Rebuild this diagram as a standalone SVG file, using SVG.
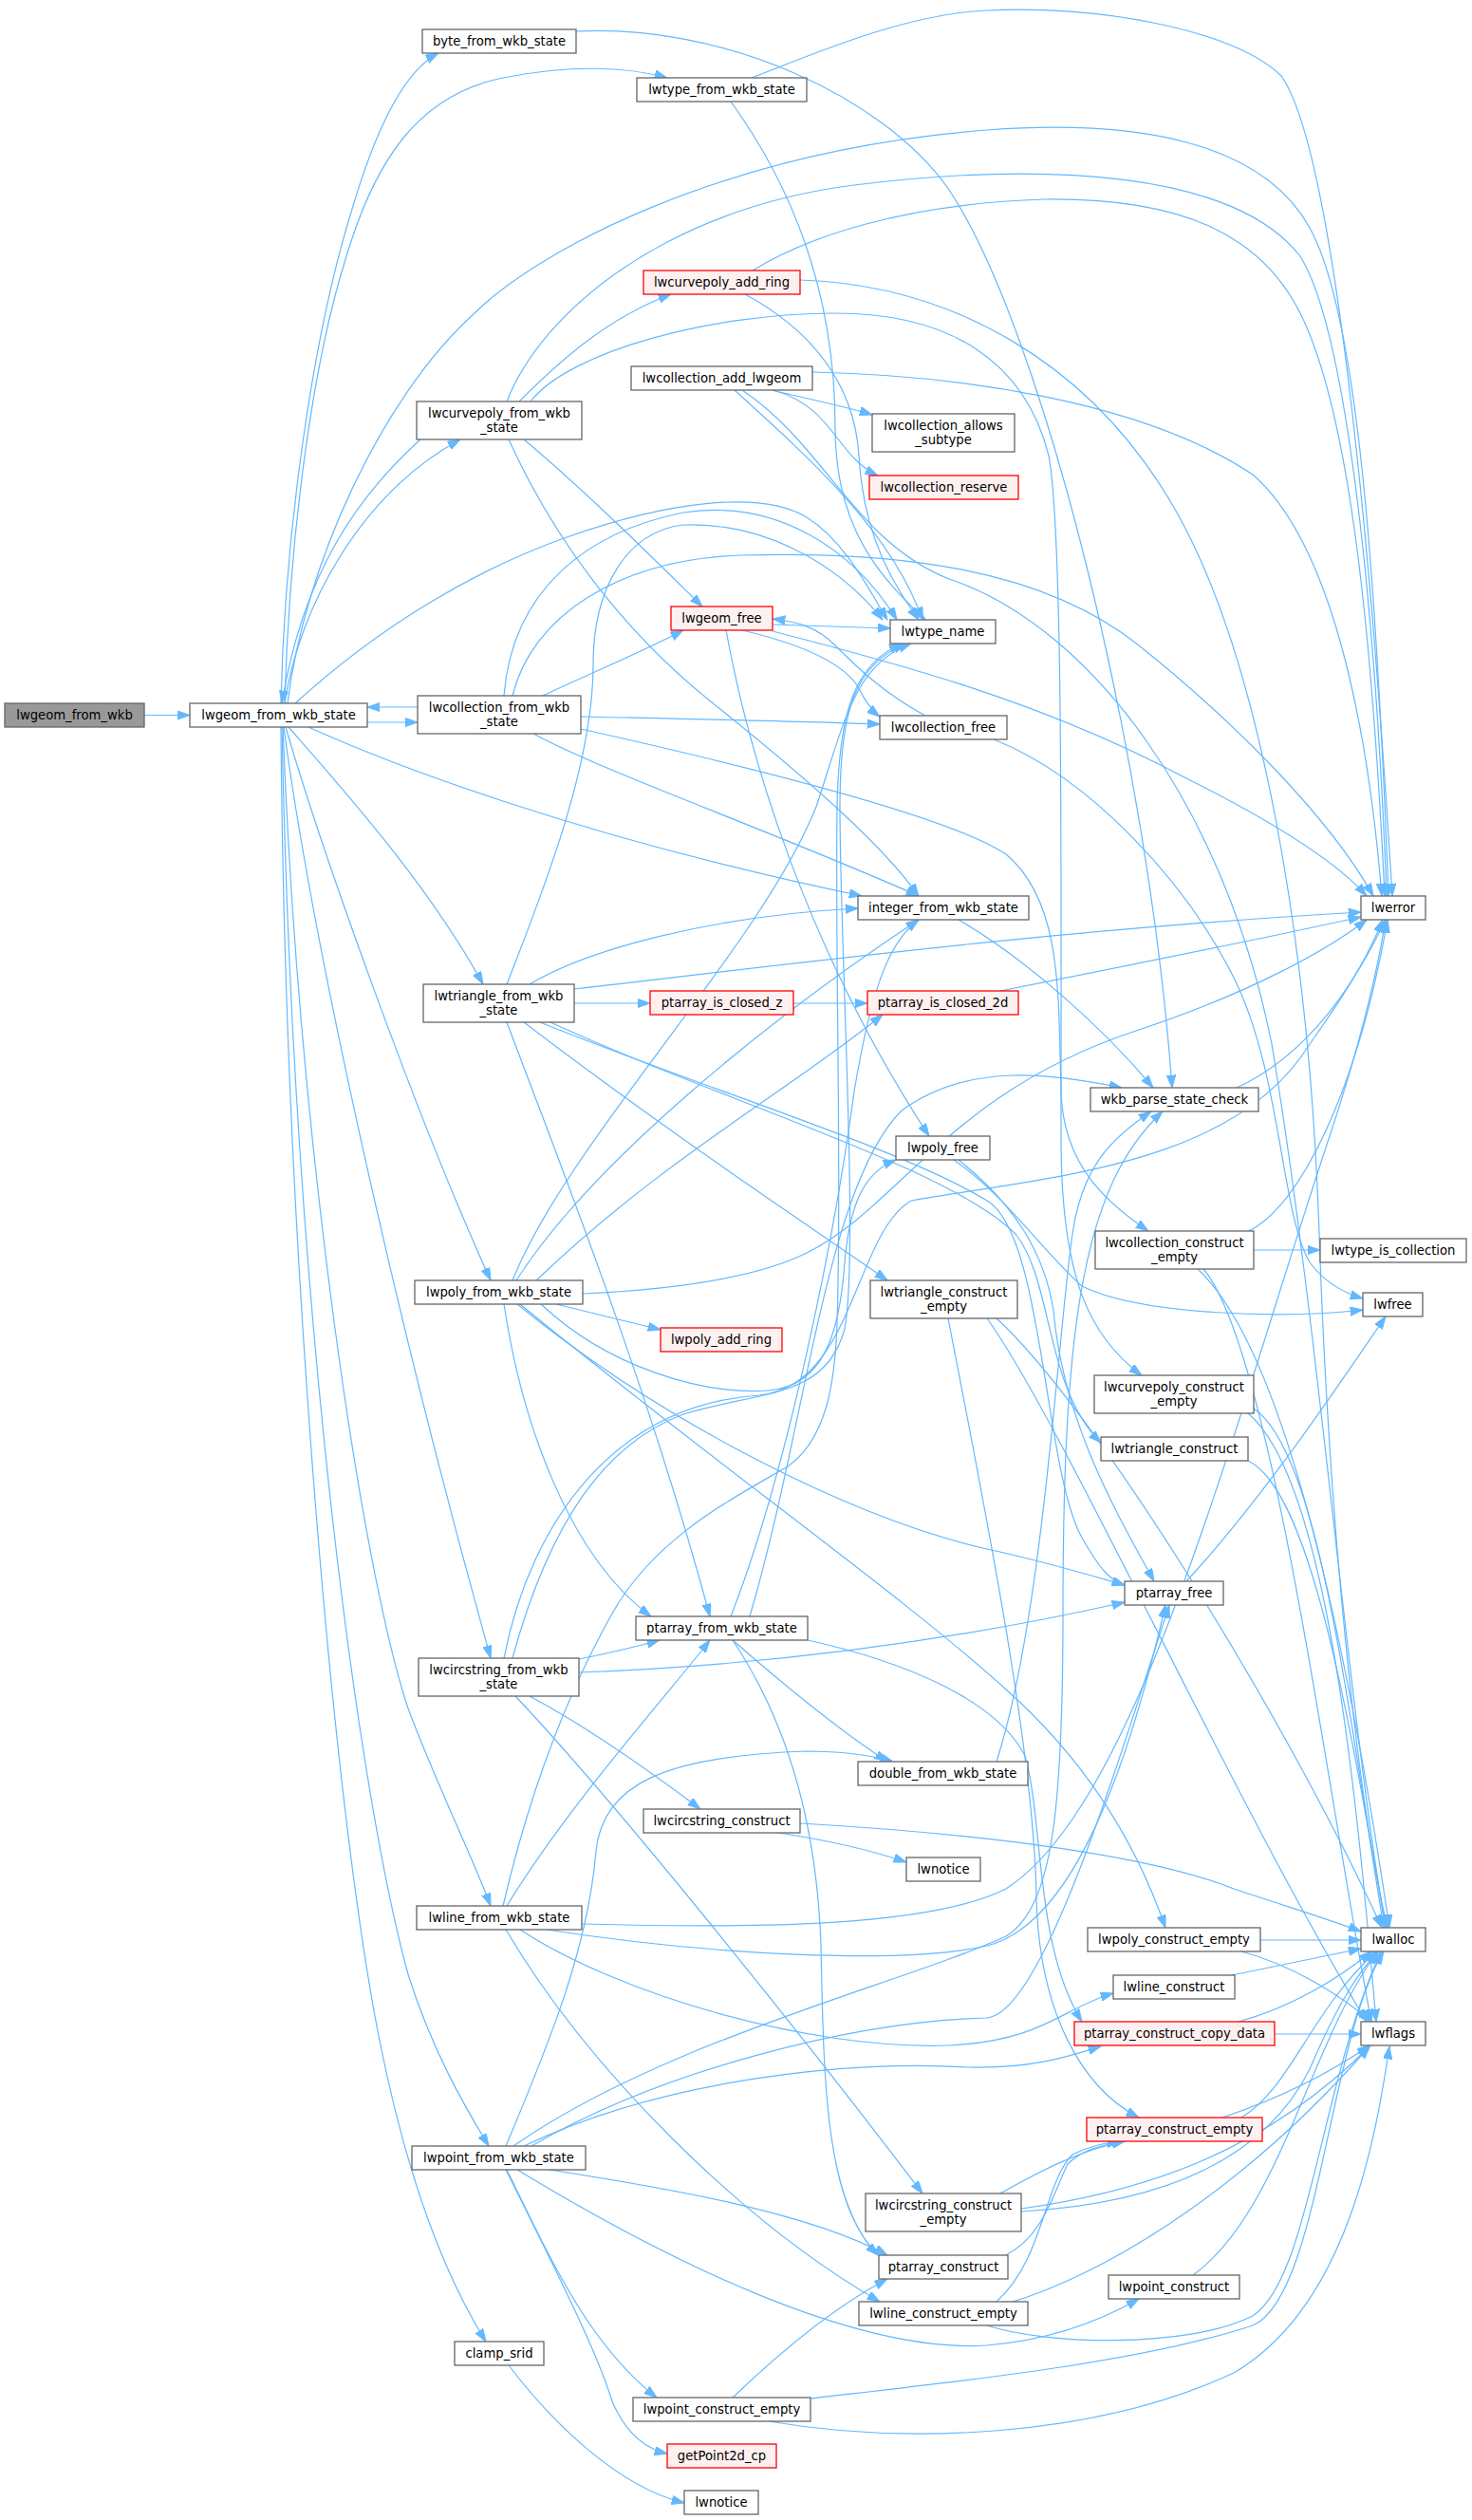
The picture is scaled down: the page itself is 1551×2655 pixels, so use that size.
<svg xmlns="http://www.w3.org/2000/svg" width="1551" height="2655" viewBox="0 0 1551 2655">
<style>
.n rect{fill:#ffffff;stroke:#666666;stroke-width:1.3}
.r rect{fill:#fff0f0;stroke:#ff0000;stroke-width:1.3}
.g rect{fill:#999999;stroke:#666666;stroke-width:1.3}
text{font-family:"DejaVu Sans","Liberation Sans",sans-serif;font-size:13.2px;text-anchor:middle;fill:#000000}
#edges path{fill:none;stroke:#63b8ff;stroke-width:1.2;marker-end:url(#a)}
</style>
<defs>
<marker id="a" markerUnits="userSpaceOnUse" markerWidth="14" markerHeight="10" refX="13.3" refY="4.67" orient="auto">
<path d="M0,0 L13.3,4.67 L0,9.33 z" fill="#63b8ff" stroke="#63b8ff" stroke-width="1"/>
</marker>
</defs>
<rect width="1551" height="2655" fill="#ffffff"/>
<g id="edges">
<path d="M152,753.5 L200,753.5"/>
<path d="M296,741 C300,560 330,350 372,217 C395,140 425,75 462,56"/>
<path d="M300,741 C305,560 330,380 365,270 C395,170 440,100 530,82 C600,68 660,70 703,82"/>
<path d="M303,741 C320,600 400,420 500,330 C560,270 750,160 1040,137 C1200,125 1330,150 1380,240 C1430,330 1450,600 1463,944"/>
<path d="M300,741 C315,640 380,520 485,463"/>
<path d="M443,463 C380,520 320,600 297,741"/>
<path d="M311,741 C400,660 500,600 600,565 C700,530 800,515 850,545 C890,570 915,620 935,653"/>
<path d="M387,761 L440,761"/>
<path d="M440,745 L387,745"/>
<path d="M325,766 C400,800 600,880 908,944"/>
<path d="M304,766 C360,830 450,930 509,1037"/>
<path d="M301,766 C340,900 440,1180 517,1349"/>
<path d="M299,766 C330,1000 420,1400 517,1747"/>
<path d="M298,766 C315,1200 380,1650 430,1800 C460,1880 495,1950 517,2008"/>
<path d="M297,766 C310,1400 380,1900 430,2080 C455,2160 490,2220 515,2261"/>
<path d="M296,766 C300,1300 350,1900 400,2150 C430,2300 470,2400 512,2467"/>
<path d="M607,33 C760,25 930,100 1000,200 C1100,350 1210,800 1235,1146"/>
<path d="M792,82 C850,60 950,15 1040,11 C1150,5 1300,30 1350,80 C1400,150 1440,500 1467,944"/>
<path d="M770,107 C830,190 880,300 880,450 C880,560 930,610 975,653"/>
<path d="M793,285 C850,250 950,215 1100,210 C1250,208 1330,250 1370,330 C1420,430 1445,650 1459,944"/>
<path d="M785,310 C850,345 900,400 905,480 C910,570 945,620 968,653"/>
<path d="M843,295 C1000,300 1150,380 1240,540 C1330,700 1380,1000 1390,1300 C1400,1600 1430,1900 1462,2031"/>
<path d="M534,423 C570,330 700,220 900,195 C1100,170 1300,180 1370,270 C1420,350 1450,650 1461,944"/>
<path d="M547,423 C590,380 640,335 707,310"/>
<path d="M552,463 C620,520 690,590 740,639"/>
<path d="M536,463 C580,560 650,660 750,740 C850,820 930,890 968,944"/>
<path d="M559,423 C600,370 750,330 880,330 C1000,330 1080,380 1105,480 C1120,560 1118,900 1118,1200 C1118,1350 1150,1410 1203,1449"/>
<path d="M813,411 C850,420 890,428 919,437"/>
<path d="M815,411 C880,430 880,480 925,501"/>
<path d="M856,392 C1000,395 1200,420 1320,500 C1400,570 1440,750 1456,944"/>
<path d="M774,411 C850,480 940,560 972,653"/>
<path d="M782,411 C870,470 900,570 1000,610 C1150,660 1290,850 1340,1100 C1390,1400 1420,1800 1460,2031"/>
<path d="M814,658 L938,662"/>
<path d="M782,664 C850,680 890,700 905,725 C912,740 918,748 927,755"/>
<path d="M765,664 C790,800 850,1000 979,1197"/>
<path d="M814,665 C950,700 1100,740 1250,820 C1350,870 1410,910 1440,944"/>
<path d="M975,754 C930,730 900,700 880,680 C860,660 840,655 814,652"/>
<path d="M1047,779 C1150,820 1250,930 1300,1030 C1350,1130 1350,1280 1380,1330 C1395,1350 1415,1362 1436,1368"/>
<path d="M572,733 C620,710 670,690 720,664"/>
<path d="M612,755 C700,757 850,760 927,763"/>
<path d="M562,773 C640,815 800,870 968,944"/>
<path d="M612,768 C800,810 1000,860 1060,900 C1120,950 1115,1050 1118,1150 C1120,1230 1170,1270 1210,1297"/>
<path d="M531,733 C540,620 620,560 720,540 C820,525 900,580 945,653"/>
<path d="M540,733 C560,650 650,590 780,585 C950,580 1100,600 1200,680 C1300,760 1400,860 1447,944"/>
<path d="M1010,969 C1080,1010 1160,1080 1215,1146"/>
<path d="M605,1057 L685,1057"/>
<path d="M558,1037 C620,1000 750,965 904,957"/>
<path d="M605,1042 C800,1020 1100,980 1434,961"/>
<path d="M534,1037 C580,920 625,800 625,700 C625,620 660,560 720,553 C800,550 880,590 930,653"/>
<path d="M534,1077 C580,1200 680,1450 748,1703"/>
<path d="M552,1077 C700,1190 850,1290 935,1349"/>
<path d="M569,1077 C750,1150 950,1210 1040,1265 C1100,1300 1100,1550 1140,1620 C1160,1655 1170,1665 1185,1670"/>
<path d="M580,1077 C760,1160 1000,1230 1070,1300 C1110,1350 1100,1460 1160,1520"/>
<path d="M836,1057 L914,1057"/>
<path d="M1054,1044 C1200,1015 1350,985 1434,966"/>
<path d="M1303,1146 C1360,1120 1420,1060 1457,969"/>
<path d="M1010,1222 C1070,1270 1100,1320 1110,1380 C1120,1500 1180,1600 1216,1666"/>
<path d="M1005,1222 C1060,1260 1100,1320 1140,1355 C1200,1385 1350,1390 1436,1380"/>
<path d="M1321,1317 L1391,1317"/>
<path d="M1316,1297 C1370,1270 1430,1150 1462,969"/>
<path d="M1262,1337 C1330,1400 1400,1600 1464,2031"/>
<path d="M1268,1337 C1340,1420 1400,1900 1445,2130"/>
<path d="M586,1374 C630,1385 660,1392 696,1401"/>
<path d="M570,1374 C640,1440 740,1470 810,1465 C870,1460 885,1400 890,1330 C895,1270 910,1235 944,1222"/>
<path d="M544,1349 C620,1230 800,1080 968,969"/>
<path d="M565,1349 C700,1220 830,1150 930,1069"/>
<path d="M614,1363 C720,1358 800,1345 850,1320 C950,1270 1000,1150 1200,1085 C1320,1045 1400,1000 1440,969"/>
<path d="M540,1349 C600,1200 800,1000 860,850 C890,760 900,700 960,678"/>
<path d="M531,1374 C550,1500 600,1640 686,1703"/>
<path d="M545,1374 C700,1500 900,1600 1040,1632 C1100,1645 1150,1660 1185,1670"/>
<path d="M548,1374 C750,1540 950,1680 1060,1780 C1150,1860 1200,1950 1228,2031"/>
<path d="M999,1389 C1040,1600 1090,1850 1092,2000 C1095,2120 1140,2200 1200,2231"/>
<path d="M1050,1389 C1150,1480 1350,1800 1456,2031"/>
<path d="M1040,1389 C1120,1500 1300,1900 1440,2130"/>
<path d="M1321,1484 C1390,1530 1420,1800 1458,2031"/>
<path d="M1315,1489 C1400,1560 1430,1900 1450,2130"/>
<path d="M1315,1539 C1380,1570 1420,1800 1460,2031"/>
<path d="M1250,1666 C1330,1580 1410,1460 1460,1387"/>
<path d="M770,1703 C830,1550 880,1300 900,1150 C920,1030 940,990 968,969"/>
<path d="M790,1703 C850,1500 870,1250 950,1170 C1020,1120 1100,1130 1182,1146"/>
<path d="M772,1728 C820,1770 880,1820 935,1856"/>
<path d="M851,1728 C950,1750 1050,1790 1080,1850 C1100,1920 1090,2050 1140,2130"/>
<path d="M772,1728 C820,1800 860,1900 865,2050 C868,2200 870,2320 925,2376"/>
<path d="M610,1748 C640,1742 670,1735 695,1728"/>
<path d="M610,1762 C800,1755 1000,1730 1185,1688"/>
<path d="M531,1747 C560,1600 650,1480 800,1470 C900,1460 900,1300 960,1265 C1100,1240 1300,1230 1380,1100 C1430,1030 1450,990 1460,969"/>
<path d="M540,1747 C580,1600 640,1520 720,1490 C800,1465 870,1475 890,1400 C905,1320 885,1000 885,850 C885,750 900,700 955,678"/>
<path d="M558,1787 C620,1820 690,1870 738,1906"/>
<path d="M543,1787 C650,1900 850,2150 972,2311"/>
<path d="M1050,1856 C1100,1700 1115,1400 1130,1300 C1140,1230 1170,1200 1213,1171"/>
<path d="M820,1931 C880,1940 920,1950 955,1962"/>
<path d="M843,1921 C1000,1930 1200,1950 1300,1990 C1360,2010 1400,2022 1434,2035"/>
<path d="M534,2008 C600,1900 700,1790 748,1728"/>
<path d="M614,2027 C800,2032 980,2030 1060,1990 C1200,1900 1300,1500 1400,1200 C1440,1080 1455,1000 1460,969"/>
<path d="M530,2008 C560,1880 600,1780 645,1700 C690,1620 770,1580 830,1545 C880,1510 882,1430 883,1350 C886,1200 880,1000 882,850 C884,750 900,700 950,678"/>
<path d="M576,2033 C750,2060 950,2070 1040,2050 C1120,2030 1180,1900 1228,1691"/>
<path d="M548,2033 C650,2100 850,2160 1000,2155 C1100,2150 1120,2115 1173,2100"/>
<path d="M533,2033 C620,2180 780,2340 927,2425"/>
<path d="M1328,2044 L1434,2044"/>
<path d="M1308,2056 C1360,2070 1410,2100 1445,2130"/>
<path d="M1298,2081 C1350,2070 1400,2060 1434,2053"/>
<path d="M1343,2143 L1434,2143"/>
<path d="M1305,2130 C1360,2115 1410,2085 1445,2056"/>
<path d="M1308,2231 C1360,2200 1380,2120 1450,2056"/>
<path d="M1288,2231 C1350,2210 1400,2185 1443,2155"/>
<path d="M533,2261 C580,2150 620,2050 628,1950 C635,1880 700,1850 850,1845 C890,1845 920,1850 941,1856"/>
<path d="M541,2261 C700,2150 950,2090 1060,2040 C1110,2010 1120,1900 1120,1700 C1120,1400 1140,1250 1225,1171"/>
<path d="M552,2261 C700,2190 900,2170 1020,2178 C1090,2180 1130,2165 1160,2156"/>
<path d="M545,2286 C700,2380 900,2480 1040,2471 C1110,2465 1160,2445 1200,2422"/>
<path d="M560,2261 C700,2180 900,2130 1040,2126 C1100,2120 1180,1850 1232,1691"/>
<path d="M579,2286 C700,2305 850,2330 935,2376"/>
<path d="M534,2286 C580,2380 620,2470 692,2526"/>
<path d="M533,2286 C590,2400 630,2480 645,2530 C660,2565 680,2580 703,2585"/>
<path d="M1054,2311 C1100,2285 1140,2265 1185,2256"/>
<path d="M1076,2330 C1250,2320 1340,2260 1380,2180 C1410,2110 1430,2080 1452,2056"/>
<path d="M1076,2327 C1200,2310 1330,2270 1444,2155"/>
<path d="M1060,2376 C1100,2355 1110,2310 1125,2280 C1140,2265 1160,2260 1185,2256"/>
<path d="M1257,2397 C1350,2330 1380,2150 1452,2056"/>
<path d="M1050,2425 C1100,2380 1100,2300 1130,2270 C1150,2260 1165,2258 1180,2256"/>
<path d="M1040,2450 C1100,2470 1250,2475 1320,2440 C1380,2400 1390,2200 1455,2056"/>
<path d="M1067,2425 C1150,2400 1300,2320 1443,2156"/>
<path d="M536,2492 C580,2550 650,2620 721,2637"/>
<path d="M772,2526 C820,2480 880,2430 935,2401"/>
<path d="M854,2527 C1000,2510 1200,2490 1320,2450 C1390,2420 1400,2150 1458,2056"/>
<path d="M810,2551 C950,2575 1150,2570 1300,2500 C1420,2430 1450,2250 1464,2156"/>
</g>
<g id="n1" class="g"><rect x="5" y="741" width="147" height="25"/><text x="78.5" y="758">lwgeom_from_wkb</text></g>
<g id="n2" class="n"><rect x="200" y="741" width="187" height="25"/><text x="293.5" y="758">lwgeom_from_wkb_state</text></g>
<g id="n3" class="n"><rect x="445" y="31" width="162" height="25"/><text x="526" y="48">byte_from_wkb_state</text></g>
<g id="n4" class="n"><rect x="671" y="82" width="179" height="25"/><text x="760.5" y="99">lwtype_from_wkb_state</text></g>
<g id="n5" class="r"><rect x="678" y="285" width="165" height="25"/><text x="760.5" y="302">lwcurvepoly_add_ring</text></g>
<g id="n6" class="n"><rect x="439" y="423" width="174" height="40"/><text x="526" y="439.5">lwcurvepoly_from_wkb</text><text x="526" y="454.5">_state</text></g>
<g id="n7" class="n"><rect x="665" y="386" width="191" height="25"/><text x="760.5" y="403">lwcollection_add_lwgeom</text></g>
<g id="n8" class="n"><rect x="919" y="436" width="150" height="40"/><text x="994" y="452.5">lwcollection_allows</text><text x="994" y="467.5">_subtype</text></g>
<g id="n9" class="r"><rect x="916" y="501" width="157" height="25"/><text x="994.5" y="518">lwcollection_reserve</text></g>
<g id="n10" class="r"><rect x="707" y="639" width="107" height="25"/><text x="760.5" y="656">lwgeom_free</text></g>
<g id="n11" class="n"><rect x="938" y="653" width="111" height="25"/><text x="993.5" y="670">lwtype_name</text></g>
<g id="n12" class="n"><rect x="440" y="733" width="172" height="40"/><text x="526" y="749.5">lwcollection_from_wkb</text><text x="526" y="764.5">_state</text></g>
<g id="n13" class="n"><rect x="927" y="754" width="134" height="25"/><text x="994" y="771">lwcollection_free</text></g>
<g id="n14" class="n"><rect x="904" y="944" width="180" height="25"/><text x="994" y="961">integer_from_wkb_state</text></g>
<g id="n15" class="n"><rect x="1434" y="944" width="68" height="25"/><text x="1468" y="961">lwerror</text></g>
<g id="n16" class="n"><rect x="446" y="1037" width="159" height="40"/><text x="525.5" y="1053.5">lwtriangle_from_wkb</text><text x="525.5" y="1068.5">_state</text></g>
<g id="n17" class="r"><rect x="685" y="1044" width="151" height="25"/><text x="760.5" y="1061">ptarray_is_closed_z</text></g>
<g id="n18" class="r"><rect x="914" y="1044" width="159" height="25"/><text x="993.5" y="1061">ptarray_is_closed_2d</text></g>
<g id="n19" class="n"><rect x="1149" y="1146" width="177" height="25"/><text x="1237.5" y="1163">wkb_parse_state_check</text></g>
<g id="n20" class="n"><rect x="944" y="1197" width="99" height="25"/><text x="993.5" y="1214">lwpoly_free</text></g>
<g id="n21" class="n"><rect x="1154" y="1297" width="167" height="40"/><text x="1237.5" y="1313.5">lwcollection_construct</text><text x="1237.5" y="1328.5">_empty</text></g>
<g id="n22" class="n"><rect x="1391" y="1305" width="154" height="25"/><text x="1468" y="1322">lwtype_is_collection</text></g>
<g id="n23" class="n"><rect x="437" y="1349" width="177" height="25"/><text x="525.5" y="1366">lwpoly_from_wkb_state</text></g>
<g id="n24" class="n"><rect x="917" y="1349" width="155" height="40"/><text x="994.5" y="1365.5">lwtriangle_construct</text><text x="994.5" y="1380.5">_empty</text></g>
<g id="n25" class="r"><rect x="696" y="1399" width="128" height="25"/><text x="760" y="1416">lwpoly_add_ring</text></g>
<g id="n26" class="n"><rect x="1436" y="1362" width="63" height="25"/><text x="1467.5" y="1379">lwfree</text></g>
<g id="n27" class="n"><rect x="1153" y="1449" width="168" height="40"/><text x="1237" y="1465.5">lwcurvepoly_construct</text><text x="1237" y="1480.5">_empty</text></g>
<g id="n28" class="n"><rect x="1160" y="1514" width="155" height="25"/><text x="1237.5" y="1531">lwtriangle_construct</text></g>
<g id="n29" class="n"><rect x="1185" y="1666" width="104" height="25"/><text x="1237" y="1683">ptarray_free</text></g>
<g id="n30" class="n"><rect x="670" y="1703" width="181" height="25"/><text x="760.5" y="1720">ptarray_from_wkb_state</text></g>
<g id="n31" class="n"><rect x="441" y="1747" width="169" height="40"/><text x="525.5" y="1763.5">lwcircstring_from_wkb</text><text x="525.5" y="1778.5">_state</text></g>
<g id="n32" class="n"><rect x="904" y="1856" width="179" height="25"/><text x="993.5" y="1873">double_from_wkb_state</text></g>
<g id="n33" class="n"><rect x="678" y="1906" width="165" height="25"/><text x="760.5" y="1923">lwcircstring_construct</text></g>
<g id="n34" class="n"><rect x="955" y="1957" width="78" height="25"/><text x="994" y="1974">lwnotice</text></g>
<g id="n35" class="n"><rect x="439" y="2008" width="174" height="25"/><text x="526" y="2025">lwline_from_wkb_state</text></g>
<g id="n36" class="n"><rect x="1146" y="2031" width="182" height="25"/><text x="1237" y="2048">lwpoly_construct_empty</text></g>
<g id="n37" class="n"><rect x="1434" y="2031" width="68" height="25"/><text x="1468" y="2048">lwalloc</text></g>
<g id="n38" class="n"><rect x="1173" y="2081" width="128" height="25"/><text x="1237" y="2098">lwline_construct</text></g>
<g id="n39" class="r"><rect x="1132" y="2130" width="211" height="25"/><text x="1237.5" y="2147">ptarray_construct_copy_data</text></g>
<g id="n40" class="n"><rect x="1434" y="2130" width="68" height="25"/><text x="1468" y="2147">lwflags</text></g>
<g id="n41" class="r"><rect x="1145" y="2231" width="185" height="25"/><text x="1237.5" y="2248">ptarray_construct_empty</text></g>
<g id="n42" class="n"><rect x="434" y="2261" width="183" height="25"/><text x="525.5" y="2278">lwpoint_from_wkb_state</text></g>
<g id="n43" class="n"><rect x="912" y="2311" width="164" height="40"/><text x="994" y="2327.5">lwcircstring_construct</text><text x="994" y="2342.5">_empty</text></g>
<g id="n44" class="n"><rect x="926" y="2376" width="136" height="25"/><text x="994" y="2393">ptarray_construct</text></g>
<g id="n45" class="n"><rect x="1168" y="2397" width="138" height="25"/><text x="1237" y="2414">lwpoint_construct</text></g>
<g id="n46" class="n"><rect x="905" y="2425" width="178" height="25"/><text x="994" y="2442">lwline_construct_empty</text></g>
<g id="n47" class="n"><rect x="479" y="2467" width="94" height="25"/><text x="526" y="2484">clamp_srid</text></g>
<g id="n48" class="n"><rect x="667" y="2526" width="187" height="25"/><text x="760.5" y="2543">lwpoint_construct_empty</text></g>
<g id="n49" class="r"><rect x="703" y="2575" width="115" height="25"/><text x="760.5" y="2592">getPoint2d_cp</text></g>
<g id="n50" class="n"><rect x="721" y="2624" width="78" height="25"/><text x="760" y="2641">lwnotice</text></g>
</svg>
